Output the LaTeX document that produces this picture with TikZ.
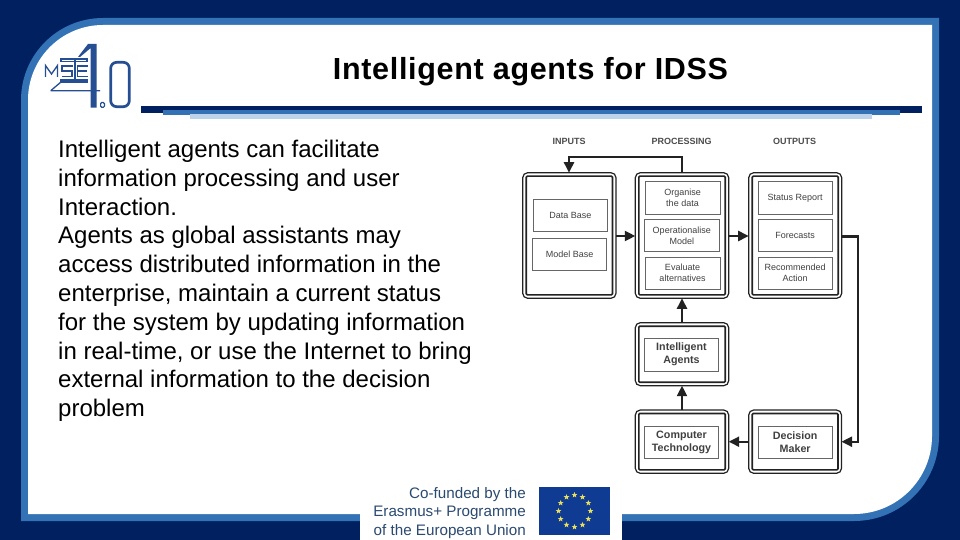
\documentclass[tikz,border=0pt]{standalone}
\usepackage{fontspec}
\setmainfont{Liberation Sans}
\newfontfamily\titlefont[LetterSpace=2.2]{Liberation Sans}
\usetikzlibrary{arrows.meta,shapes.geometric}
\definecolor{navy}{HTML}{002060}
\definecolor{midblue}{HTML}{3373B5}
\definecolor{paleblue}{HTML}{BDD3E9}
\definecolor{logoblue}{HTML}{264E92}
\definecolor{boxink}{HTML}{222222}
\definecolor{eutext}{HTML}{2B4A70}
\definecolor{euflag}{HTML}{103B93}
\definecolor{eustar}{HTML}{E8DF5A}
\tikzset{
 outerbox/.style={draw=boxink,line width=1.2pt,rounded corners=5pt,fill=white},
 innerbox/.style={draw=boxink,line width=1.6pt,rounded corners=1pt},
 itembox/.style={draw=black!60,line width=1pt,fill=white,align=center,text=black!75,font=\fontsize{9}{10.8}\selectfont,inner sep=0pt},
 boldbox/.style={itembox,font=\bfseries\fontsize{10.7}{13}\selectfont},
 heading/.style={font=\bfseries\fontsize{9}{10}\selectfont,text=black!70},
 flow/.style={line width=2.2pt,draw=boxink,-{Triangle[length=10.5pt,width=10pt]}},
 logoline/.style={draw=logoblue,line width=1.3pt},
}
\begin{document}
\begin{tikzpicture}[x=1pt,y=-1pt]
\useasboundingbox (0,0) rectangle (960,540);
\fill[navy] (0,0) rectangle (960,540);
% frame
\fill[midblue] (21,521) -- (21,100) arc[start angle=180,end angle=270,radius=82] -- (939,18) -- (939,436) arc[start angle=0,end angle=90,radius=85] -- cycle;
\fill[white] (28,514) -- (28,100) arc[start angle=180,end angle=270,radius=75] -- (932,25) -- (932,436) arc[start angle=0,end angle=90,radius=78] -- cycle;
% title bars
\fill[navy] (141,106) rectangle (922,112.7);
\fill[midblue] (163,110) rectangle (900,115);
\fill[paleblue] (190,114.5) rectangle (872,119);
% title
\node[font=\titlefont\bfseries\fontsize{30.5}{34}\selectfont,anchor=base] (title) at (530.5,80) {Intelligent agents for IDSS};
% body
\node[anchor=north west,align=left,inner sep=0pt,font=\fontsize{24}{28.8}\selectfont] (body) at (58,140) {Intelligent agents can facilitate\\information processing and user\\Interaction.\\Agents as global assistants may\\access distributed information in the\\enterprise, maintain a current status\\for the system by updating information\\in real-time, or use the Internet to bring\\external information to the decision\\problem};
% logo
\fill[logoblue] (96.7,44) -- (88,44) -- (78,57) -- (80,57) -- (90.7,48) -- (90.7,107.7) -- (96.7,107.7) -- cycle;
\draw[logoblue,line width=2.7pt,rounded corners=6pt] (110.7,62.3) rectangle (129.3,106.7);
\draw[logoblue,line width=1.2pt,rounded corners=1pt] (100.6,102.6) rectangle (104.4,107.2);
\draw[logoline,line join=miter] (45.5,77) -- (45.5,65.5) -- (51.5,74) -- (57.5,65.5) -- (57.5,77);
\draw[logoline] (72.5,66) -- (62,66) -- (62,71) -- (72,71) -- (72,76.5) -- (61.5,76.5);
\draw[logoline] (87.5,66) -- (77.5,66) -- (77.5,76.5) -- (87.5,76.5) (77.5,71) -- (86.5,71);
\draw[logoline] (60,59) -- (88,59) (60,61.5) -- (88,61.5) (60,80) -- (88,80) (60,82) -- (88,82) (75,59) -- (75,82) (61,59) -- (61,61.5) (87,59) -- (87,61.5) (61,80) -- (61,82) (87,80) -- (87,82);
\draw[logoline] (50.7,90.7) -- (100,90.7) (50.7,90.7) -- (61,82);
% EU logo
\fill[white] (360,505) rectangle (622,540);
\node[anchor=north east,align=right,inner sep=0pt,text=eutext,font=\fontsize{15.2}{18.7}\selectfont] (eu) at (526,487) {Co-funded by the\\Erasmus+ Programme\\of the European Union};
\fill[euflag] (539,487.3) rectangle (610,534.7);
\foreach \a in {0,30,...,330}{
 \node[star,star points=5,star point ratio=2.4,fill=eustar,inner sep=0pt,minimum size=6pt] at ({574.5+16*cos(\a)},{511-16*sin(\a)}) {};
}
% boxes
\foreach \n/\xa/\ya/\xb/\yb in {inp/522.7/172.7/616/298.3,proc/635.3/172.7/728.7/298.3,outp/748.7/172.7/841.7/298.3,agent/635.3/322.7/728.7/385.7,comp/635.3/410/728.7/473.3,dec/748.7/410/841.5/473.3}{
 \draw[outerbox] (\xa,\ya) rectangle (\xb,\yb);
 \draw[innerbox] (\xa+3.5,\ya+3.5) rectangle (\xb-3.5,\yb-3.5);
 \coordinate (\n-n) at ({(\xa+\xb)/2},\ya);
 \coordinate (\n-s) at ({(\xa+\xb)/2},\yb);
}
\coordinate (inp-e) at (616,236);
\coordinate (proc-w) at (635.3,236);
\coordinate (proc-e) at (728.7,236);
\coordinate (outp-w) at (748.7,236);
\coordinate (outp-e) at (841.7,236.5);
\coordinate (dec-e) at (841.5,441.7);
\coordinate (dec-w) at (748.7,441.7);
\coordinate (comp-e) at (728.7,441.7);
\coordinate (bendA) at (681.7,157);
\coordinate (bendB) at (569,157);
\coordinate (bendC) at (857.7,236.5);
\coordinate (bendD) at (857.7,441.7);
% items
\foreach \n/\xa/\ya/\xb/\yb/\t in {
 db/533.3/199.3/607.3/231.7/{Data Base},
 mb/532.7/238.3/606.7/270.7/{Model Base},
 org/645/181.7/720/214/{Organise\\the data},
 ope/644.5/219.3/719/251.7/{Operationalise\\Model},
 eva/645/257/720/289.3/{Evaluate\\alternatives},
 sta/758/181.7/832.3/214/{Status Report},
 fore/758/219.3/832.3/251.7/{Forecasts},
 rec/758/257/832.3/289.3/{Recommended\\Action}}{
 \node[itembox,minimum width={\xb-\xa},minimum height={\yb-\ya}] (\n) at ({(\xa+\xb)/2},{(\ya+\yb)/2}) {\t};
}
\foreach \n/\xa/\ya/\xb/\yb/\t in {
 ia/644.3/337.7/718.7/370.3/{Intelligent\\Agents},
 ct/644.3/425.3/718.7/457.7/{Computer\\Technology},
 dm/758/425.3/832.3/457.7/{Decision\\Maker}}{
 \node[boldbox,minimum width={\xb-\xa},minimum height={\yb-\ya}] (\n) at ({(\xa+\xb)/2},{(\ya+\yb)/2+0.7}) {\t};
}
% headings
\node[heading] (h1) at (569,141.5) {INPUTS};
\node[heading] (h2) at (681.5,141.5) {PROCESSING};
\node[heading] (h3) at (794.5,141.5) {OUTPUTS};
% arrows
\draw[flow] (proc-n -| bendA) -- (bendA) -- (bendB) -- (inp-n -| bendB);
\draw[flow] (inp-e) -- (proc-w);
\draw[flow] (proc-e) -- (outp-w);
\draw[flow] (outp-e) -- (bendC) -- (bendD) -- (dec-e);
\draw[flow] (dec-w) -- (comp-e);
\draw[flow] (comp-n) -- (agent-s);
\draw[flow] (agent-n) -- (proc-s);
\end{tikzpicture}
\end{document}
